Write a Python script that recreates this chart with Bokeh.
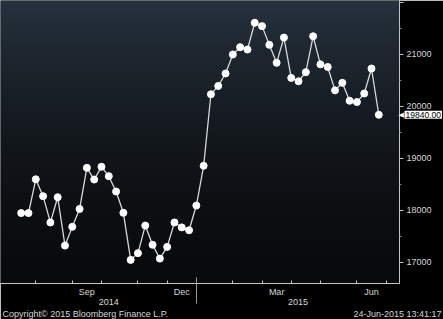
import numpy as np
import pandas as pd
from bokeh.plotting import figure
from bokeh.models import Range1d, LinearAxis, FixedTicker, Label, Title, ColumnDataSource
from bokeh.embed import file_html
from bokeh.resources import INLINE

# ---- data (weekly closes) ----
first_date = "2014-07-18"
n_weeks = 50
prices = [17950, 17950, 18600, 18275, 17770, 18255, 17325, 17685, 18030, 18820,
          18595, 18840, 18660, 18365, 17955, 17050, 17180, 17710, 17340, 17075,
          17300, 17770, 17675, 17620, 18095, 18860, 20235, 20395, 20635, 21000,
          21140, 21095, 21610, 21545, 21185, 20840, 21325, 20550, 20485, 20660,
          21350, 20810, 20760, 20310, 20455, 20110, 20085, 20250, 20730, 19840]
last_value_text = "19840.00"

# first weekly point of each month (month tick marks)
month_starts = ["2014-08-01", "2014-09-05", "2014-10-03", "2014-11-07", "2014-12-05",
                "2015-01-02", "2015-02-06", "2015-03-06", "2015-04-03", "2015-05-01",
                "2015-06-05", "2015-07-03"]
month_labels = ["Sep", "Dec", "Mar", "Jun"]
month_label_spans = [("2014-09-05", "2014-10-03"), ("2014-12-05", "2015-01-02"),
                     ("2015-03-06", "2015-04-03"), ("2015-06-05", "2015-07-03")]
year_labels = ["2014", "2015"]
year_break = "2015-01-02"
y_ticks = [17000, 18000, 19000, 20000, 21000, 22000]
y_minor = [16500, 17500, 18500, 19500, 20500, 21500]
copyright_text = "Copyright\u00a9 2015 Bloomberg Finance L.P."
stamp_text = "24-Jun-2015 13:41:17"


def ms(d):
    return pd.Timestamp(d).value / 1e6


dates = pd.date_range(first_date, periods=n_weeks, freq="7D")
xs = [ms(d) for d in dates]
DAY = 86400000.0
pad = 19.85 * DAY
x0, x1 = xs[0] - pad, xs[-1] + pad
y0, y1 = 16596, 22038

p = figure(width=443, height=319, output_backend="svg", toolbar_location=None,
           x_axis_type=None, y_axis_type=None,
           x_range=Range1d(x0, x1), y_range=Range1d(y0, y1),
           min_border_left=0, min_border_top=0, min_border_right=44, min_border_bottom=36)
p.border_fill_color = "black"
p.background_fill_color = "black"
p.outline_line_color = None
p.xgrid.visible = False
p.ygrid.visible = False

# vertical gradient background
nrows = 283
t = np.linspace(0, 1, nrows)  # 0 = bottom, 1 = top
w = t ** 1.6
top = np.array([38, 50, 62])
bot = np.array([9, 10, 12])
cols = (bot[None, :] + (top - bot)[None, :] * w[:, None]).astype(np.uint8)
img = np.zeros((nrows, 1), dtype=np.uint32)
view = img.view(dtype=np.uint8).reshape((nrows, 1, 4))
view[:, 0, 0] = cols[:, 0]
view[:, 0, 1] = cols[:, 1]
view[:, 0, 2] = cols[:, 2]
view[:, 0, 3] = 255
p.image_rgba(image=[img], x=x0, y=y0, dw=x1 - x0, dh=y1 - y0)

src = ColumnDataSource(dict(x=xs, y=prices))
p.line("x", "y", source=src, line_color="#d8d8d8", line_width=1.3)
p.scatter("x", "y", source=src, size=7, fill_color="white", line_color="white")

FONT = "Liberation Sans"
TXT = "#d6d6d6"
AX = "#c4c4c4"

# bottom axis: month tick marks + quarterly month labels
mids = [(ms(a) + ms(b)) / 2 for a, b in month_label_spans]
xa = LinearAxis(ticker=FixedTicker(ticks=mids, minor_ticks=[ms(d) for d in month_starts]),
                major_label_overrides={m: l for m, l in zip(mids, month_labels)})
xa.axis_line_color = AX
xa.major_tick_line_color = None
xa.major_tick_in = 0
xa.major_tick_out = 0
xa.minor_tick_line_color = AX
xa.minor_tick_in = 3
xa.minor_tick_out = 0
xa.major_label_standoff = 3
xa.major_label_text_font = FONT
xa.major_label_text_font_size = "9px"
xa.major_label_text_color = TXT
p.add_layout(xa, "below")

# year axis
ymids = [(xs[0] + ms(year_break)) / 2, (ms(year_break) + x1) / 2]
ya2 = LinearAxis(ticker=FixedTicker(ticks=ymids, minor_ticks=[ms(year_break)]),
                 major_label_overrides={m: l for m, l in zip(ymids, year_labels)})
ya2.axis_line_color = None
ya2.major_tick_line_color = None
ya2.major_tick_in = 0
ya2.major_tick_out = 0
ya2.minor_tick_line_color = "#9a9a9a"
ya2.minor_tick_in = 22
ya2.minor_tick_out = 4
ya2.major_label_standoff = -5
ya2.major_label_text_font = FONT
ya2.major_label_text_font_size = "9px"
ya2.major_label_text_color = TXT
p.add_layout(ya2, "below")

# right value axis
ra = LinearAxis(ticker=FixedTicker(ticks=y_ticks, minor_ticks=y_minor),
                major_label_overrides={22000: ""})
ra.axis_line_color = AX
ra.major_tick_line_color = AX
ra.major_tick_in = 0
ra.major_tick_out = 4
ra.minor_tick_line_color = "#8a8a8a"
ra.minor_tick_in = 0
ra.minor_tick_out = 2
ra.major_label_standoff = 3
ra.major_label_text_font = FONT
ra.major_label_text_font_size = "9px"
ra.major_label_text_color = TXT
p.add_layout(ra, "right")

# last value tag
p.add_layout(Label(x=398, x_units="canvas", y=prices[-1], y_units="data", text="\u25c0",
                   text_color="white", text_font_size="7px", text_baseline="middle",
                   text_font="DejaVu Sans"), "right")
p.add_layout(Label(x=404, x_units="canvas", y=prices[-1], y_units="data", text=last_value_text,
                   text_color="black", text_font=FONT, text_font_size="8.5px",
                   text_baseline="middle", background_fill_color="white", padding=1), "below")

# footer texts (zero-height titles at the very bottom)
for txt, al, off in [(copyright_text, "left", 2), (stamp_text, "right", -42)]:
    p.add_layout(Title(text=txt, align=al, offset=off, standoff=-13, vertical_align="top",
                       text_font=FONT, text_font_size="9px", text_font_style="normal",
                       text_color=TXT), "below")

open("out.html", "w").write(file_html(p, INLINE))
